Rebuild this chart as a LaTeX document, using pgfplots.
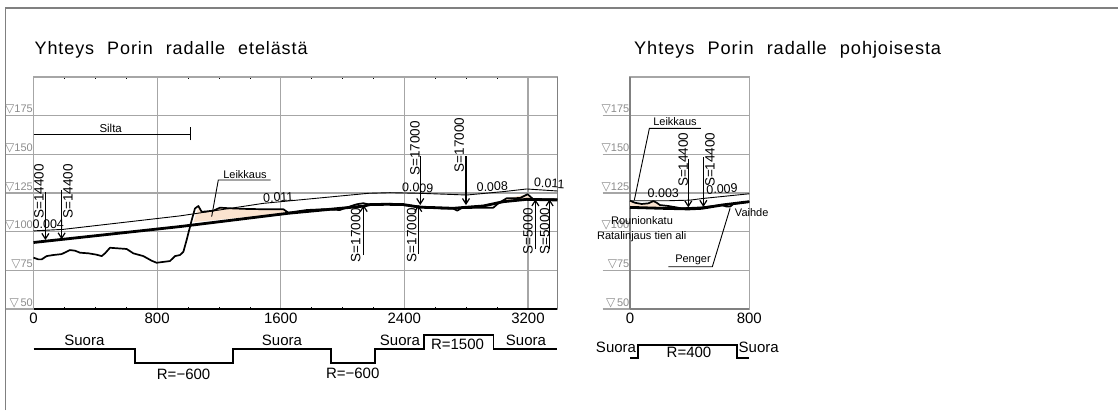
\documentclass[border=0pt]{standalone}
\usepackage{pgfplots}
\pgfplotsset{compat=1.18}
\usepackage{fontspec}
\setmainfont{Liberation Sans}
\newfontfamily\symfont{DejaVu Sans}
\newfontfamily\titlefont[LetterSpace=5,WordSpace=2.2]{Liberation Sans}
\newfontfamily\cadfont{Liberation Sans}
\usetikzlibrary{arrows.meta}
\definecolor{gridg}{HTML}{A6A6A6}
\definecolor{frameg}{HTML}{808080}
\definecolor{labg}{HTML}{8C8C8C}
\definecolor{peach}{HTML}{FBE3CF}
\newcommand{\tri}{{\fontsize{12}{12}\selectfont\symfont\char"25BD}}
\newcommand{\fs}[1]{\fontsize{#1}{#1}\selectfont}
\newcommand{\T}[5][0]{\node[inner sep=0pt,rotate=#1,font=\fs{#4}\cadfont] at (#2pt,{410pt-#3pt}) {#5};}
\pgfplotsset{
  prof/.style={
    scale only axis, anchor=south west, clip=false,
    ymin=50, ymax=200, ytick={50,75,100,125,150,175},
    yticklabels={\tri\,50,\tri75,\tri100,\tri125,\tri150,\tri175},
    xtick={0,800,1600,2400,3200},
    grid=major, major grid style={gridg,line width=1.1pt},
    major tick length=0pt,
    axis line style={gridg,line width=1.1pt},
    /pgf/number format/assume math mode=true,
    /pgf/number format/1000 sep={},
    xticklabel style={font=\fs{15}, anchor=north, inner sep=0pt, yshift=-3.5pt},
    yticklabel style={font=\fs{11}, text=labg, anchor=south east, inner sep=0pt, xshift=-0.5pt, yshift=1pt},
  },
  rail/.style={black,line width=2.8pt},
  ground/.style={black,line width=1.7pt,line join=round},
  thin/.style={black,line width=0.9pt},
  ext/.style={gridg,line width=1.1pt},
  arr/.style={black,line width=1.2pt,-{Straight Barb[length=5.5pt,width=7pt]}},
  step/.style={black,line width=1.9pt,line join=miter},
}
\begin{document}
\begin{tikzpicture}[x=1pt,y=1pt]
\useasboundingbox (0,0) rectangle (1118pt,410pt);
\draw[frameg,line width=1.1pt] (5.5pt,0pt) -- (5.5pt,402pt) -- (1118pt,402pt);

\begin{axis}[prof, at={(33.5pt,101pt)}, width=523.8pt, height=232pt,
  xmin=0, xmax=3390,
  minor x tick num=3, minor tick length=2pt, minor tick style={black,line width=0.5pt}]
% left extensions of the level lines
\addplot[ext] coordinates {(-180,175)(0,175)};
\addplot[ext] coordinates {(-180,150)(0,150)};
\addplot[ext] coordinates {(-180,125)(0,125)};
\addplot[ext] coordinates {(-180,100)(0,100)};
\addplot[ext] coordinates {(-180,75)(0,75)};
\addplot[ext] coordinates {(-180,50)(0,50)};
\addplot[frameg,line width=1.1pt] coordinates {(3390,50)(3390,200)};
% cut areas
\addplot[fill=peach,draw=none] coordinates {(1035,106.2)(1067,116)(1088,113)(1110,113)(1164,113.6)(1207,115.5)(1272,115.1)(1487,114.5)(1617,114.5)(1649,112)} -- cycle;
\addplot[fill=peach,draw=none] coordinates {(2976,116)(3008,118.3)(3062,121.6)(3198,124.2)(3235,120.9)(3041,119.4)} -- cycle;
% thin line
\addplot[thin] coordinates {(0,100.5)(193,101.5)(948,110.2)(1056,111.8)(1487,118.3)(2167,124.8)(2307,125.2)(2502,124.8)(2804,123.7)(3041,125.9)(3192,127.6)(3390,126.3)};
% rail
\addplot[rail] coordinates {(0,93)(948,103.3)(1649,111.9)(2134,116.5)(2178,117.5)(2286,117.7)(2394,117.5)(2502,115.8)(2609,115.5)(2717,115.1)(2804,115.8)(2911,116.6)(3041,119.4)(3192,120.9)(3390,120.5)};
% ground
\addplot[ground] coordinates {(0,83.2)(31,82.1)(53,82.1)(85,84.2)(128,84.9)(182,85.5)(236,88.1)(269,87.7)(301,86.4)(355,86)(409,85.1)(441,84.2)(463,86)(495,89.6)(549,89.2)(603,88.8)(646,86)(711,84.2)(765,81.2)(797,79.9)(883,81)(916,84.2)(948,84.9)(970,87)(991,94.6)(1024,107.5)(1045,115)(1067,116.6)(1088,112.9)(1110,113)(1164,113.6)(1207,115.5)(1272,115.1)(1379,114.7)(1487,114.5)(1617,114.5)(1649,112.3)(1768,114)(1875,114.5)(1983,114)(2026,115.6)(2091,117.7)(2134,118.4)(2178,117.5)(2307,118)(2502,116.2)(2652,114.9)(2717,114.9)(2743,113.6)(2771,115.3)(2976,115.5)(3008,118.3)(3062,121.6)(3105,121.6)(3150,121.8)(3198,124.2)(3235,120.9)(3390,121)};
% bottom line
\addplot[black,line width=1.3pt] coordinates {(0,50)(3390,50)};
% arrows
\addplot[arr] coordinates {(77,125.8)(77,94.6)};
\addplot[arr] coordinates {(182,127)(182,95)};
\addplot[arr] coordinates {(2137,84.9)(2137,117.2)};
\addplot[arr] coordinates {(2490,85.5)(2490,117.2)};
\addplot[arr] coordinates {(2503,148.9)(2503,117.2)};
\addplot[arr] coordinates {(2799,148.9)(2799,117.2)};
\addplot[arr] coordinates {(3248,88.6)(3248,120.9)};
\addplot[arr] coordinates {(3340,88.6)(3340,120.9)};
% bridge
\addplot[black,line width=1pt] coordinates {(0,163.1)(1019,163.1)};
\addplot[black,line width=1pt] coordinates {(1019,159)(1019,167.5)};
% leader
\addplot[black,line width=0.9pt] coordinates {(1153,109.7)(1196,133.4)(1535,133.4)};
% alignment
\addplot[step] coordinates {(0,24.1)(654,24.1)(654,14.9)(1289,14.9)(1289,24.1)(1926,24.1)(1926,14.9)(2210,14.9)(2210,24.1)(2525,24.1)(2525,33.2)(2977,33.2)(2977,24.1)(3390,24.1)};
\end{axis}

\begin{axis}[prof, at={(630pt,101pt)}, width=119.3pt, height=232pt,
  xmin=0, xmax=800, xtick={0,800}]
\addplot[ext] coordinates {(-183,175)(0,175)};
\addplot[ext] coordinates {(-183,150)(0,150)};
\addplot[ext] coordinates {(-183,125)(0,125)};
\addplot[ext] coordinates {(-183,100)(0,100)};
\addplot[ext] coordinates {(-183,75)(0,75)};
\addplot[ext] coordinates {(-183,50)(0,50)};
\addplot[frameg,line width=1.1pt] coordinates {(0,50)(0,200)};
\addplot[frameg,line width=1.1pt] coordinates {(0,50)(800,50)};
\addplot[fill=peach,draw=none] coordinates {(0,120)(33,118.7)(78,117.9)(123,118.3)(157,119.8)(179,118.7)(201,117.2)(212,115.1)(0,115.7)} -- cycle;
\addplot[thin] coordinates {(0,120)(257,120)(403,120.4)(492,121.5)(800,124.5)};
\addplot[rail] coordinates {(0,115.7)(212,115.1)(391,114.7)(481,115.1)(615,117.2)(800,119.4)};
\addplot[ground] coordinates {(0,120)(33,118.7)(78,117.9)(123,118.3)(157,119.8)(179,118.7)(201,117.2)(257,116.6)(347,115.1)(481,115.7)(615,117.2)(648,116.2)(671,116.2)(693,117.9)(800,119.4)};
\addplot[arr] coordinates {(391,146.7)(391,115.7)};
\addplot[arr] coordinates {(492,148)(492,116)};
\addplot[black,line width=0.9pt] coordinates {(29,120.4)(130,166.8)(475,166.8)};
\addplot[black,line width=0.9pt] coordinates {(257,77.3)(552,77.3)(671,115.1)};
\addplot[step] coordinates {(0,18.1)(56,18.1)(56,26.7)(716,26.7)(716,18.1)(800,18.1)};
\end{axis}

% texts
\node[inner sep=0pt,anchor=base west,font=\fs{18}\titlefont] at (34.5pt,355.5pt) {Yhteys Porin radalle etelästä};
\node[inner sep=0pt,anchor=base west,font=\fs{18.2}\titlefont] at (634pt,355.5pt) {Yhteys Porin radalle pohjoisesta};
\T{110.7}{128.3}{11.5}{Silta}
\T{245}{174.7}{11}{Leikkaus}
\T{48.3}{224.3}{12.5}{0.004}
\T[3]{278.3}{197.3}{12.5}{0.011}
\T[-3]{417.7}{187.7}{12.5}{0.009}
\T[2]{492.3}{186.7}{12.5}{0.008}
\T[-3]{549.3}{183.3}{12.5}{0.011}
\T[90]{39}{191.5}{13.5}{S=14400}
\T[90]{68}{191.5}{13.5}{S=14400}
\T[90]{355.7}{235}{13.5}{S=17000}
\T[90]{411.7}{235}{13.5}{S=17000}
\T[90]{415}{148.3}{13.5}{S=17000}
\T[90]{459.3}{145}{13.5}{S=17000}
\T[90]{528}{231}{13.5}{S=5000}
\T[90]{544.7}{231}{13.5}{S=5000}
\T{84.4}{340.7}{15}{Suora}
\T{282}{340.7}{15}{Suora}
\T{400}{340.7}{15}{Suora}
\T{526}{340.7}{15}{Suora}
\T{457.5}{344.4}{15}{R=1500}
\T{183.6}{374.5}{15}{R=−600}
\T{352.7}{373.8}{15}{R=−600}
\T{675}{122}{11}{Leikkaus}
\T{693}{260}{11}{Penger}
\T{751.7}{212.7}{11}{Vaihde}
\T{642}{220.7}{11}{Rounionkatu}
\T{641.7}{236.7}{11}{Ratalinjaus tien ali}
\T{663.3}{193.3}{12.5}{0.003}
\T[3]{722}{189}{12.5}{0.009}
\T[90]{683.3}{159.7}{13.5}{S=14400}
\T[90]{710}{159.7}{13.5}{S=14400}
\T{616}{347.7}{15}{Suora}
\T{689}{352.3}{15}{R=400}
\T{758.7}{347.7}{15}{Suora}
\end{tikzpicture}
\end{document}
